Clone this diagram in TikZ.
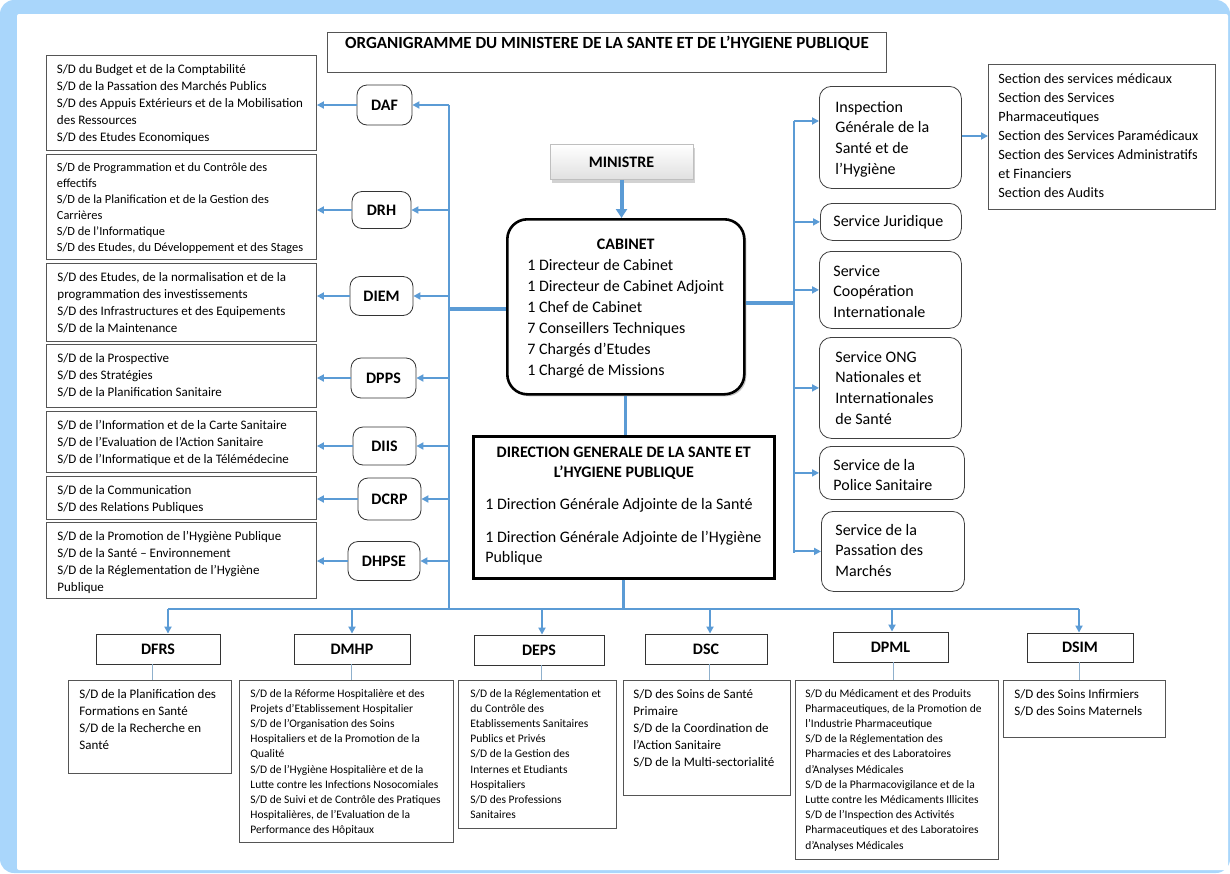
\documentclass[tikz,border=0pt]{standalone}
\usepackage{fontspec}
\setmainfont{Carlito}
\usetikzlibrary{arrows.meta,shadows,calc}
\definecolor{arr}{HTML}{5B9BD5}
\definecolor{framec}{HTML}{A9D6FB}
\definecolor{bord}{HTML}{555555}
\definecolor{subl}{HTML}{8FB0CC}
\newcommand\tb[9]{%
 \pgfmathsetmacro\tbw{#5-#3}%
 \pgfmathsetmacro\tbh{#6-#4-2*#8}%
 \node[#1,anchor=north west,inner xsep=0pt,inner ysep=#8pt] (#2) at (#3,#4)
   {\parbox[c][\tbh pt][t]{\tbw pt}{\leftskip=#7pt\rightskip=0pt plus 1fil\parfillskip=0pt plus 1fil\parindent=0pt\strut #9}};}
\newcommand\ctl[1]{{\leftskip=0pt plus 1fil\rightskip=0pt plus 1fil\parfillskip=0pt #1\par}}
\tikzset{
 lbox/.style={draw=bord, line width=0.9pt, font=\fontsize{13}{17}\selectfont},
 rbox/.style={draw=black!75, line width=0.8pt, rounded corners=12pt, font=\fontsize{16}{20.7}\selectfont},
 secbox/.style={draw=bord, line width=0.9pt, font=\fontsize{14.2}{19}\selectfont},
 bigsub/.style={draw=bord, line width=0.9pt, font=\fontsize{13}{17}\selectfont},
 smallsub/.style={draw=bord, line width=0.9pt, font=\fontsize{11.5}{15.2}\selectfont},
 dnode/.style={draw=black!80, line width=0.8pt, rounded corners=10pt, font=\fontsize{16}{19}\selectfont\bfseries, inner sep=0pt},
 bnode/.style={draw=black!80, line width=0.9pt, font=\fontsize{16}{19}\selectfont\bfseries, inner sep=0pt},
 thin/.style={draw=arr, line width=1.1pt},
 thick/.style={draw=arr, line width=3.5pt},
 arw/.style={draw=arr, line width=2pt, -{Triangle[length=7pt,width=7pt]}},
 sublink/.style={draw=subl, line width=0.9pt},
}
\begin{document}
\begin{tikzpicture}[x=1pt,y=-1pt]
\useasboundingbox (0,0) rectangle (1230,873);
% frame
\fill[framec, rounded corners=14pt] (0,0) rectangle (1230,873);
\fill[white, rounded corners=2pt] (17,14) rectangle (1228,870);

% title
\tb{draw=bord, line width=0.9pt, font=\fontsize{17}{20}\selectfont\bfseries}{title}{327}{32}{886}{72}{0}{2}{\ctl{ORGANIGRAMME DU MINISTERE DE LA SANTE ET DE L’HYGIENE PUBLIQUE}}

% left boxes
\tb{lbox}{dafbox}{46}{55}{316}{150}{10.5}{6.3}{S/D du Budget et de la Comptabilité\\ S/D de la Passation des Marchés Publics\\ S/D des Appuis Extérieurs et de la Mobilisation\\ des Ressources\\ S/D des Etudes Economiques}
\tb{lbox, font=\fontsize{12.4}{16}\selectfont}{drhbox}{46}{154}{316}{259}{10.5}{6.3}{S/D de Programmation et du Contrôle des\\ effectifs\\ S/D de la Planification et de la Gestion des\\ Carrières\\ S/D de l’Informatique\\ S/D des Etudes, du Développement et des Stages}
\tb{lbox}{diembox}{46}{263}{316}{341}{11}{6.3}{S/D des Etudes, de la normalisation et de la\\ programmation des investissements\\ S/D des Infrastructures et des Equipements\\ S/D de la Maintenance}
\tb{lbox}{dppsbox}{46}{344}{316}{407}{11}{6.3}{S/D de la Prospective\\ S/D des Stratégies\\ S/D de la Planification Sanitaire}
\tb{lbox}{diisbox}{46}{411}{316}{472}{11}{5.8}{S/D de l’Information et de la Carte Sanitaire\\ S/D de l’Evaluation de l’Action Sanitaire\\ S/D de l’Informatique et de la Télémédecine}
\tb{lbox}{dcrpbox}{46}{476}{316}{519}{11}{6}{S/D de la Communication\\ S/D des Relations Publiques}
\tb{lbox}{dhpsebox}{46}{522}{316}{598}{11}{6.3}{S/D de la Promotion de l’Hygiène Publique\\ S/D de la Santé – Environnement\\ S/D de la Réglementation de l’Hygiène\\ Publique}

% D nodes left
\node[dnode, minimum width=55pt, minimum height=40pt] (daf) at (384.5,105) {DAF};
\node[dnode, minimum width=59pt, minimum height=37pt] (drh) at (381.5,210) {DRH};
\node[dnode, minimum width=63pt, minimum height=39pt] (diem) at (381.5,296) {DIEM};
\node[dnode, minimum width=65pt, minimum height=40pt] (dpps) at (383.5,378) {DPPS};
\node[dnode, minimum width=63pt, minimum height=38pt] (diis) at (384.5,446) {DIIS};
\node[dnode, minimum width=63pt, minimum height=42pt] (dcrp) at (389.5,499) {DCRP};
\node[dnode, minimum width=72pt, minimum height=39pt] (dhpse) at (384,561) {DHPSE};

% Ministre, Cabinet, DG
\node[draw=black!25, line width=0.6pt, top color=white, bottom color=black!12, drop shadow={opacity=0.35, shadow xshift=2pt, shadow yshift=-3pt}, minimum width=143pt, minimum height=35pt, font=\fontsize{16}{19}\selectfont\bfseries, inner sep=0pt] (min) at (621.5,162) {MINISTRE};
\tb{draw=black, line width=2.6pt, rounded corners=20pt, fill=white, drop shadow={opacity=0.45, shadow xshift=2pt, shadow yshift=-2pt}, font=\fontsize{16}{21}\selectfont}{cab}{506}{218}{743}{393}{20}{15.5}{\ctl{\bfseries CABINET}1 Directeur de Cabinet\\ 1 Directeur de Cabinet Adjoint\\ 1 Chef de Cabinet\\ 7 Conseillers Techniques\\ 7 Chargés d’Etudes\\ 1 Chargé de Missions}
\tb{draw=black, line width=2.6pt, fill=white, drop shadow={opacity=0.45, shadow xshift=2pt, shadow yshift=-2pt}, font=\fontsize{16}{20}\selectfont}{dg}{472}{435}{773}{577}{12}{7.3}{\ctl{\bfseries DIRECTION GENERALE DE LA SANTE ET}\ctl{\bfseries L’HYGIENE PUBLIQUE}\vspace{12pt}\strut 1 Direction Générale Adjointe de la Santé\par\vspace{13pt}\strut 1 Direction Générale Adjointe de l’Hygiène\\ Publique}

% right boxes
\tb{rbox}{insp}{819}{86}{961}{188}{16}{11.3}{Inspection\\ Générale de la\\ Santé et de\\ l’Hygiène}
\tb{rbox}{jur}{820}{203}{961}{240}{13}{8.3}{Service Juridique}
\tb{rbox}{coop}{819}{251}{961}{328}{14}{10.3}{Service\\ Coopération\\ Internationale}
\tb{rbox}{ong}{819}{337}{961}{438}{16}{10.3}{Service ONG\\ Nationales et\\ Internationales\\ de Santé}
\tb{rbox}{pol}{819}{446}{964}{499}{14}{9.3}{Service de la\\ Police Sanitaire}
\tb{rbox}{pass}{821}{511}{964}{591}{14}{9.3}{Service de la\\ Passation des\\ Marchés}
\tb{secbox}{sec}{988}{64}{1215}{209}{10}{6.2}{Section des services médicaux\\ Section des Services\\ Pharmaceutiques\\ Section des Services Paramédicaux\\ Section des Services Administratifs\\ et Financiers\\ Section des Audits}

% bottom D boxes
\node[bnode, minimum width=124pt, minimum height=30pt] (dfrs) at (158,649) {DFRS};
\node[bnode, minimum width=116pt, minimum height=30pt] (dmhp) at (352,649) {DMHP};
\node[bnode, minimum width=130pt, minimum height=30pt] (deps) at (539,650) {DEPS};
\node[bnode, minimum width=122pt, minimum height=30pt] (dsc) at (706,649) {DSC};
\node[bnode, minimum width=115pt, minimum height=30pt] (dpml) at (890.5,647) {DPML};
\node[bnode, minimum width=106pt, minimum height=29pt] (dsim) at (1080,647.5) {DSIM};

% bottom sub boxes
\tb{bigsub}{dfrssub}{68}{680}{231}{773}{11}{6.6}{S/D de la Planification des\\ Formations en Santé\\ S/D de la Recherche en\\ Santé}
\tb{smallsub}{dmhpsub}{239}{680}{453}{842}{11}{5.9}{S/D de la Réforme Hospitalière et des\\ Projets d’Etablissement Hospitalier\\ S/D de l’Organisation des Soins\\ Hospitaliers et de la Promotion de la\\ Qualité\\ S/D de l’Hygiène Hospitalière et de la\\ Lutte contre les Infections Nosocomiales\\ S/D de Suivi et de Contrôle des Pratiques\\ Hospitalières, de l’Evaluation de la\\ Performance des Hôpitaux}
\tb{smallsub}{depssub}{458}{680}{616}{828}{12}{5.9}{S/D de la Réglementation et\\ du Contrôle des\\ Etablissements Sanitaires\\ Publics et Privés\\ S/D de la Gestion des\\ Internes et Etudiants\\ Hospitaliers\\ S/D des Professions\\ Sanitaires}
\tb{bigsub}{dscsub}{623}{680}{790}{795}{10}{6.6}{S/D des Soins de Santé\\ Primaire\\ S/D de la Coordination de\\ l’Action Sanitaire\\ S/D de la Multi-sectorialité}
\tb{smallsub}{dpmlsub}{795}{680}{998}{859}{10}{5.9}{S/D du Médicament et des Produits\\ Pharmaceutiques, de la Promotion de\\ l’Industrie Pharmaceutique\\ S/D de la Réglementation des\\ Pharmacies et des Laboratoires\\ d’Analyses Médicales\\ S/D de la Pharmacovigilance et de la\\ Lutte contre les Médicaments Illicites\\ S/D de l’Inspection des Activités\\ Pharmaceutiques et des Laboratoires\\ d’Analyses Médicales}
\tb{bigsub}{dsimsub}{1003}{680}{1165}{737}{11}{6.6}{S/D des Soins Infirmiers\\ S/D des Soins Maternels}

% bus coordinates
\coordinate (lvt) at (449,105);
\coordinate (lvb) at (449,609);
\coordinate (rvt) at (794,121);
\coordinate (rvb) at (794,553);
\coordinate (busl) at (168,609);
\coordinate (busr) at (1079,609);
\coordinate (iy) at (0,121);
\coordinate (cly) at (0,309);
\coordinate (cry) at (0,303);

% vertical buses and bottom bus
\draw[thin] (lvt) -- (lvb);
\draw[thin] (rvt) -- (rvb);
\draw[thin] (busl) -- (busr);

% ministre -> cabinet -> dg -> bus
\draw[draw=arr, line width=4pt, -{Triangle[length=9pt,width=11pt]}] (min.south) -- (cab.north -| min.south);
\draw[thick, line width=3pt] (cab.south -| 625,0) -- (dg.north -| 625,0);
\draw[thick, line width=3pt] (dg.south -| 623,0) -- (busl -| 623,0);
\draw[thick] (cab.west |- cly) -- (lvt |- cly);
\draw[thick] (cab.east |- cry) -- (rvt |- cry);

% left arrows
\foreach \n in {daf,drh,diem,dpps,diis,dcrp,dhpse}{
  \draw[arw] (lvt |- \n.east) -- (\n.east);
  \draw[arw] (\n.west) -- (\n box.east |- \n.west);
}

% right arrows
\draw[arw] (rvt) -- (insp.west |- iy);
\foreach \n in {jur,coop,ong,pol,pass}{
  \draw[arw] (rvt |- \n.west) -- (\n.west);
}
\draw[arw] (insp.east |- 0,136) -- (sec.west |- 0,136);

% drops
\foreach \n/\x in {dfrs/168,dmhp/352,deps/542,dsc/710,dpml/892,dsim/1079}{
  \draw[arw] (busl -| \x,0) -- (\n.north -| \x,0);
}
% sub links
\foreach \n/\x in {dfrs/152,dmhp/351,deps/541,dsc/709,dpml/893,dsim/1079}{
  \draw[sublink] (\n.south -| \x,0) -- (\n sub.north -| \x,0);
}
\end{tikzpicture}
\end{document}
